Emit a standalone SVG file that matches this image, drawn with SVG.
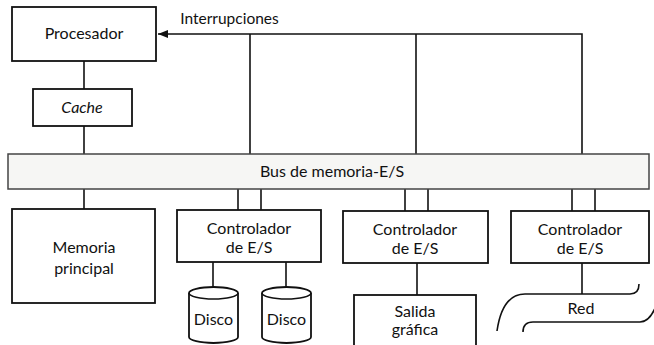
<svg xmlns="http://www.w3.org/2000/svg" width="654" height="345" viewBox="0 0 654 345">
<style>
.box{fill:#fff;stroke:#111;stroke-width:1.8}
.ln{fill:none;stroke:#111;stroke-width:1.6}
.t{font-family:Lato,"Open Sans","Liberation Sans",sans-serif;font-size:16px;fill:#111;text-anchor:middle}
</style>
<defs>
<marker id="ah" markerWidth="10" markerHeight="8" refX="10" refY="4" orient="auto" markerUnits="userSpaceOnUse">
<path d="M0,0 L10,4 L0,8 Z" fill="#111"/>
</marker>
</defs>
<rect width="654" height="345" fill="#fff"/>
<g id="connectors">
<line class="ln" x1="84" y1="61" x2="84" y2="89"/>
<line class="ln" x1="84" y1="126" x2="84" y2="154"/>
<line class="ln" x1="84" y1="189" x2="84" y2="209"/>
<path class="ln" d="M582,154 V34 H158" marker-end="url(#ah)"/>
<line class="ln" x1="250" y1="34" x2="250" y2="154"/>
<line class="ln" x1="416" y1="34" x2="416" y2="154"/>
<line class="ln" x1="238" y1="189" x2="238" y2="210"/>
<line class="ln" x1="261" y1="189" x2="261" y2="210"/>
<line class="ln" x1="405" y1="189" x2="405" y2="211"/>
<line class="ln" x1="428" y1="189" x2="428" y2="211"/>
<line class="ln" x1="572" y1="189" x2="572" y2="211"/>
<line class="ln" x1="595" y1="189" x2="595" y2="211"/>
<line class="ln" x1="213" y1="262" x2="213" y2="293"/>
<line class="ln" x1="286" y1="262" x2="286" y2="293"/>
<line class="ln" x1="417" y1="263" x2="417" y2="295"/>
<line class="ln" x1="582" y1="263" x2="582" y2="294"/>
<text class="t" x="229.5" y="24" style="font-size:15.5px">Interrupciones</text>
</g>
<g id="procesador">
<rect class="box" x="12" y="7" width="144" height="54"/>
<text class="t" x="84" y="39">Procesador</text>
</g>
<g id="cache">
<rect class="box" x="33" y="89" width="99" height="37"/>
<text class="t" x="82" y="113" font-style="italic">Cache</text>
</g>
<g id="bus">
<rect x="8" y="154" width="641" height="35" fill="#f6f6f4" stroke="#444" stroke-width="1.5"/>
<text class="t" x="332" y="177" style="font-size:16px">Bus de memoria-E/S</text>
</g>
<g id="memoria">
<rect class="box" x="12" y="209" width="143" height="94"/>
<text class="t" x="84" y="253">Memoria</text>
<text class="t" x="84" y="274">principal</text>
</g>
<g id="controlador1">
<rect class="box" x="177" y="210" width="144" height="52"/>
<text class="t" x="249" y="234">Controlador</text>
<text class="t" x="249" y="253">de E/S</text>
</g>
<g id="disco1">
<path class="box" d="M189,293 A24.5,6 0 0 1 238,293 V337 A24.5,6 0 0 1 189,337 Z"/>
<path class="ln" d="M189,293 A24.5,6 0 0 0 238,293"/>
<text class="t" x="213.5" y="325">Disco</text>
</g>
<g id="disco2">
<path class="box" d="M262,293 A24.5,6 0 0 1 311,293 V337 A24.5,6 0 0 1 262,337 Z"/>
<path class="ln" d="M262,293 A24.5,6 0 0 0 311,293"/>
<text class="t" x="286.5" y="325">Disco</text>
</g>
<g id="controlador2">
<rect class="box" x="343" y="211" width="145" height="52"/>
<text class="t" x="415" y="235">Controlador</text>
<text class="t" x="415" y="254">de E/S</text>
</g>
<g id="salida">
<rect class="box" x="354" y="295" width="122" height="60"/>
<text class="t" x="415" y="317">Salida</text>
<text class="t" x="415" y="335">gráfica</text>
</g>
<g id="controlador3">
<rect class="box" x="511" y="211" width="138" height="52"/>
<text class="t" x="580" y="235">Controlador</text>
<text class="t" x="580" y="254">de E/S</text>
</g>
<g id="red">
<path class="ln" d="M497,331 C500,310 508,294 525,294 H630 C636,294 639,290 639,284"/>
<path class="ln" d="M523,332 C523,326 526,322 533,322 H640 C647,322 652,316 656,306"/>
<text class="t" x="581" y="314">Red</text>
</g>
</svg>
